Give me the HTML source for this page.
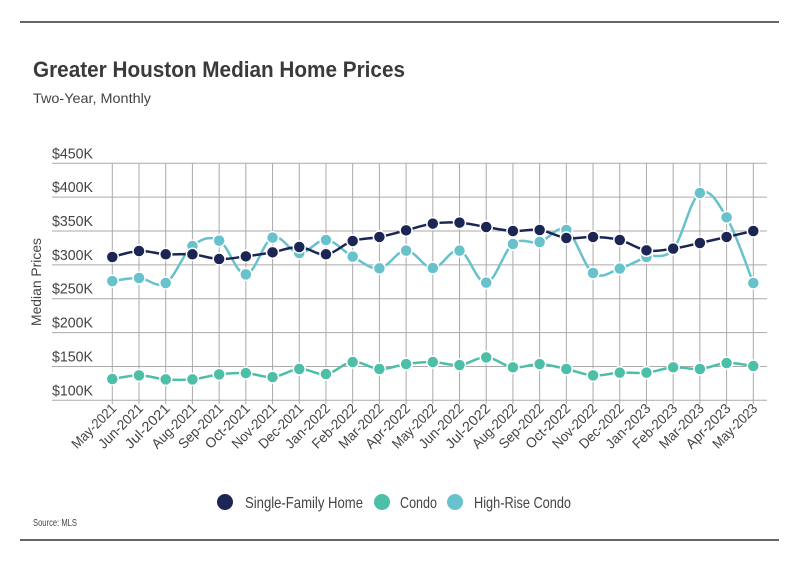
<!DOCTYPE html>
<html><head><meta charset="utf-8"><style>
body{margin:0;background:#fff;font-family:"Liberation Sans",sans-serif;}
svg text{font-family:"Liberation Sans",sans-serif;}
</style></head><body>
<svg width="799" height="575" viewBox="0 0 799 575">
<line x1="20" y1="22" x2="779" y2="22" stroke="#333" stroke-width="1.5"/>
<line x1="20" y1="540" x2="779" y2="540" stroke="#333" stroke-width="1.5"/>
<text x="33" y="77" font-size="22" font-weight="bold" fill="#3a3a3a" textLength="372" lengthAdjust="spacingAndGlyphs">Greater Houston Median Home Prices</text>
<text x="33" y="103" font-size="14" fill="#444" textLength="118" lengthAdjust="spacingAndGlyphs">Two-Year, Monthly</text>
<text transform="translate(41,282) rotate(-90)" text-anchor="middle" font-size="14" fill="#444" textLength="88" lengthAdjust="spacingAndGlyphs">Median Prices</text>
<g id="grid"></g><g id="series"></g><g id="xlabels"></g>
<g>
<circle cx="225" cy="502" r="8" fill="#1c2654"/>
<text x="245" y="508" font-size="16" fill="#444" textLength="118" lengthAdjust="spacingAndGlyphs">Single-Family Home</text>
<circle cx="382" cy="502" r="8" fill="#4dbfa8"/>
<text x="400" y="508" font-size="16" fill="#444" textLength="37" lengthAdjust="spacingAndGlyphs">Condo</text>
<circle cx="455" cy="502" r="8" fill="#67c2cb"/>
<text x="474" y="508" font-size="16" fill="#444" textLength="97" lengthAdjust="spacingAndGlyphs">High-Rise Condo</text>
</g>
<text x="33" y="526" font-size="10" fill="#444" textLength="44" lengthAdjust="spacingAndGlyphs">Source:  MLS</text>
</svg>
<script>
const categories=["May-2021","Jun-2021","Jul-2021","Aug-2021","Sep-2021","Oct-2021","Nov-2021","Dec-2021","Jan-2022","Feb-2022","Mar-2022","Apr-2022","May-2022","Jun-2022","Jul-2022","Aug-2022","Sep-2022","Oct-2022","Nov-2022","Dec-2022","Jan-2023","Feb-2023","Mar-2023","Apr-2023","May-2023"];
const sfhValues=[311.6,320.5,315.6,315.6,308.6,312.6,318.5,326.4,315.6,335.3,341.2,351,361,362.4,355.9,350,351.5,339.7,341.2,336.7,321.5,324,332.3,341.2,350];
const condoValues=[131.4,136.8,130.9,130.9,138.3,140.2,134.3,146.2,138.8,156.5,146.2,153.5,156.5,152,163.4,148.7,153.5,146.2,136.8,140.8,140.8,148.7,146.2,155,150.6];
const highRiseValues=[276,280.6,273.2,327.8,335.8,286,340.2,317.5,336.7,312.2,294.9,321,295.4,321,273.8,330.8,333.8,351.5,288,294.5,311.6,323.4,406.1,370.2,273.2];
const yTicks=[100,150,200,250,300,350,400,450];
const yTickLabels=["$100K","$150K","$200K","$250K","$300K","$350K","$400K","$450K"];
const NS="http://www.w3.org/2000/svg";
const x0=112.3,x1=753.3,yTop=163.3,yBot=400.3,vMin=100,vMax=450;
function xs(i){return x0+(x1-x0)*i/(categories.length-1);}
function ys(v){return yBot-(v-vMin)/(vMax-vMin)*(yBot-yTop);}
const grid=document.getElementById('grid');
yTicks.forEach((t,i)=>{
 const l=document.createElementNS(NS,'line');
 l.setAttribute('x1',52);l.setAttribute('x2',767);l.setAttribute('y1',ys(t));l.setAttribute('y2',ys(t));
 l.setAttribute('stroke','#aaa');l.setAttribute('stroke-width','1');
 
 
 grid.appendChild(l);
 const tx=document.createElementNS(NS,'text');
 tx.setAttribute('x',52);tx.setAttribute('y',ys(t)-5);tx.setAttribute('font-size','15');tx.setAttribute('fill','#444');
 tx.setAttribute('textLength','41');tx.setAttribute('lengthAdjust','spacingAndGlyphs');
 tx.textContent=yTickLabels[i];
 
 
 grid.appendChild(tx);
});
const xl=document.getElementById('xlabels');
categories.forEach((c,i)=>{
 const l=document.createElementNS(NS,'line');
 l.setAttribute('x1',xs(i));l.setAttribute('x2',xs(i));l.setAttribute('y1',yTop);l.setAttribute('y2',yBot+4);
 l.setAttribute('stroke','#aaa');l.setAttribute('stroke-width','1');
 
 
 grid.appendChild(l);
 const tx=document.createElementNS(NS,'text');
 tx.setAttribute('transform','translate('+(xs(i)+5)+','+(yBot+9)+') rotate(-45)');
 tx.setAttribute('text-anchor','end');tx.setAttribute('font-size','14');tx.setAttribute('fill','#444');
 tx.setAttribute('textLength',String(c.length*7.1));tx.setAttribute('lengthAdjust','spacingAndGlyphs');
 tx.textContent=c;
 
 
 xl.appendChild(tx);
});
function path(vals){
 const p=vals.map((v,i)=>[xs(i),ys(v)]);
 let d='M'+p[0][0]+','+p[0][1];
 const t=0.18;
 for(let i=0;i<p.length-1;i++){
  const a=p[i-1]||p[i],b=p[i],c=p[i+1],e=p[i+2]||c;
  d+=' C'+(b[0]+(c[0]-a[0])*t)+','+(b[1]+(c[1]-a[1])*t)+' '+(c[0]-(e[0]-b[0])*t)+','+(c[1]-(e[1]-b[1])*t)+' '+c[0]+','+c[1];
 }
 return d;
}
const sg=document.getElementById('series');
[[highRiseValues,'#67c2cb','highrise'],[sfhValues,'#1c2654','sfh'],[condoValues,'#4dbfa8','condo']].forEach(([vals,col,nm])=>{
 const pa=document.createElementNS(NS,'path');
 pa.setAttribute('d',path(vals));pa.setAttribute('fill','none');pa.setAttribute('stroke',col);pa.setAttribute('stroke-width','2.5');
 
 
 sg.appendChild(pa);
 vals.forEach((v,i)=>{
  const c=document.createElementNS(NS,'circle');
  c.setAttribute('cx',xs(i));c.setAttribute('cy',ys(v));c.setAttribute('r','6');
  c.setAttribute('fill',col);c.setAttribute('stroke','#fff');c.setAttribute('stroke-width','1.5');
  
  
  sg.appendChild(c);
 });
});
</script>
</body></html>
